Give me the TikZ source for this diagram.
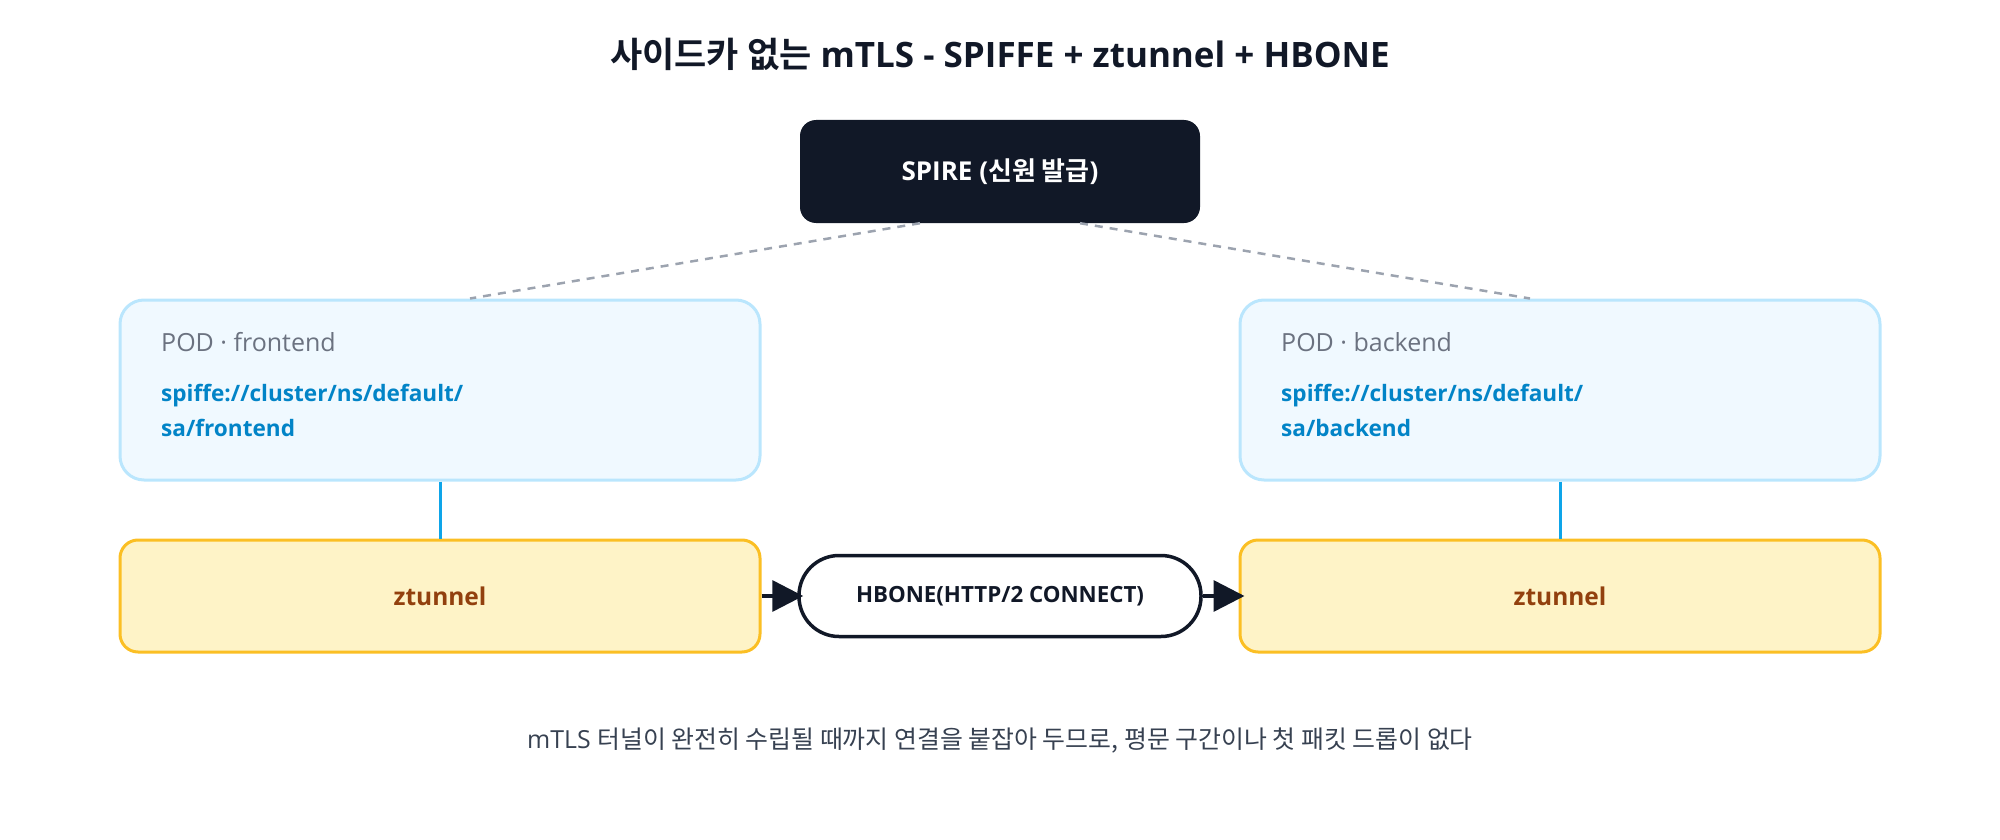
\documentclass[tikz,border=0pt]{standalone}
\usepackage{fontspec}
\setmainfont{Open Sans}
\newfontfamily\kr{Noto Sans CJK KR}[BoldFont={Noto Sans CJK KR Bold}]
\usetikzlibrary{positioning,arrows.meta}
\definecolor{ink}{HTML}{111827}
\definecolor{notegray}{HTML}{374151}
\definecolor{podfill}{HTML}{F0F9FF}
\definecolor{podline}{HTML}{BAE6FD}
\definecolor{podgray}{HTML}{6B7280}
\definecolor{spiffeblue}{HTML}{0284C7}
\definecolor{linkblue}{HTML}{0EA5E9}
\definecolor{zfill}{HTML}{FEF3C7}
\definecolor{zline}{HTML}{FBBF24}
\definecolor{ztext}{HTML}{92400E}
\definecolor{dashgray}{HTML}{9CA3AF}
\tikzset{
	titlefont/.style={text=ink, font=\fontsize{35}{40}\selectfont\bfseries, inner sep=0pt},
	spirebox/.style={fill=ink, text=white, rounded corners=16pt, minimum width=400pt, minimum height=103pt, font=\fontsize{26}{30}\selectfont\bfseries},
	podbox/.style={draw=podline, line width=3pt, fill=podfill, rounded corners=24pt, minimum width=640pt, minimum height=180pt, inner sep=0pt},
	podname/.style={text=podgray, font=\fontsize{25}{30}\selectfont, inner sep=0pt, anchor=base west},
	spiffeid/.style={text=spiffeblue, font=\fontsize{22.6}{35}\selectfont\bfseries, inner sep=0pt, anchor=north west, align=left},
	zbox/.style={draw=zline, line width=3pt, fill=zfill, rounded corners=18pt, minimum width=640pt, minimum height=112pt, text=ztext, font=\fontsize{24.5}{30}\selectfont\bfseries},
	pill/.style={draw=ink, line width=3.5pt, fill=white, rounded corners=40pt, minimum width=402pt, minimum height=81pt, text=ink, font=\fontsize{22.3}{28}\selectfont\bfseries},
	note/.style={text=notegray, font=\fontsize{24.9}{28}\selectfont, inner sep=0pt},
	issue/.style={draw=dashgray, line width=2.5pt, dash pattern=on 8pt off 7pt},
	link/.style={draw=linkblue, line width=3pt},
	flow/.style={draw=ink, line width=3.5pt, -{Triangle[length=31pt,width=31pt]}, shorten >=-6pt},
}
\begin{document}
\begin{tikzpicture}[x=1pt,y=-1pt]
\useasboundingbox (0,0) rectangle (2000,840);
\node[titlefont] (title) at (1000,54) {{\kr 사이드카 없는} mTLS - SPIFFE + ztunnel + HBONE};
\node[spirebox] (spire) at (1000,171.5) {SPIRE ({\kr 신원 발급})};
\node[podbox] (podL) at (440,390) {};
\node[podbox] (podR) at (1560,390) {};
\node[podname] (podLname) at (161,351) {POD · frontend};
\node[podname] (podRname) at (1281,351) {POD · backend};
\node[spiffeid] (podLid) at (161,384.5) {spiffe://cluster/ns/default/\\sa/frontend};
\node[spiffeid] (podRid) at (1281,384.5) {spiffe://cluster/ns/default/\\sa/backend};
\node[zbox] (zL) at (440,596) {ztunnel};
\node[zbox] (zR) at (1560,596) {ztunnel};
\node[pill] (hbone) at (1000,596) {HBONE(HTTP/2 CONNECT)};
\node[note] (note) at (1000,741) {mTLS {\kr 터널이 완전히 수립될 때까지 연결을 붙잡아 두므로, 평문 구간이나 첫 패킷 드롭이 없다}};
\draw[issue] ([xshift=-80pt]spire.south) -- ([xshift=30pt]podL.north);
\draw[issue] ([xshift=80pt]spire.south) -- ([xshift=-30pt]podR.north);
\draw[link] (podL) -- (zL);
\draw[link] (podR) -- (zR);
\draw[flow] (zL) -- (hbone);
\draw[flow] (hbone) -- (zR);
\end{tikzpicture}
\end{document}
